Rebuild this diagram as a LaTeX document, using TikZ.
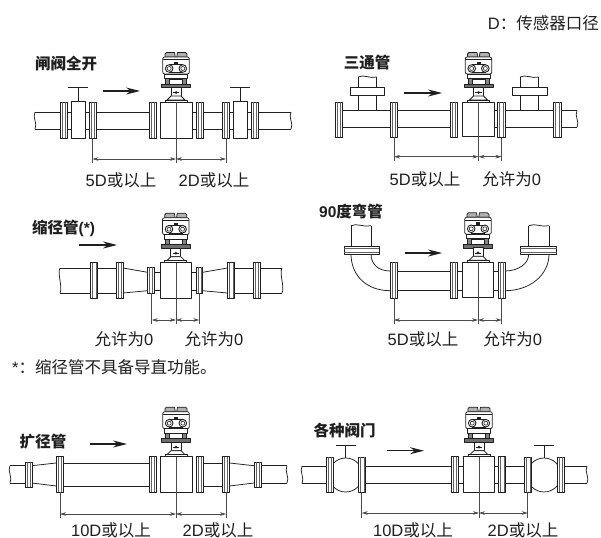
\documentclass[tikz,border=0pt]{standalone}
\usepackage{fontspec}
\setmainfont{Liberation Sans}
\newfontfamily\cjk{Noto Sans CJK SC}
\usetikzlibrary{arrows.meta}
\definecolor{ink}{gray}{0.12}
\definecolor{dimink}{gray}{0.3}
\tikzset{
  pipe/.style={draw=ink,line width=0.75pt,line join=round},
  solidpart/.style={pipe,fill=white},
  flowarrow/.style={draw=ink,line width=1.2pt,-{Stealth[length=14pt,width=7pt]}},
  dimarrow/.style={draw=dimink,line width=0.6pt,{Stealth[length=6pt,width=3.6pt]}-{Stealth[length=6pt,width=3.6pt]}},
  extline/.style={draw=dimink,line width=0.55pt},
  dimtext/.style={font=\fontsize{16.5}{18}\selectfont,text=ink,inner sep=0pt},
  titletext/.style={font=\fontsize{15.5}{18}\selectfont\bfseries,text=ink,inner sep=0pt},
}
% flange: x1 x2 y1 y2
\newcommand\fla[4]{\draw[solidpart] (#1,#3) rectangle (#2,#4);
  \draw[draw=ink!70,line width=0.45pt] ({#1+1.9},#3) -- ({#1+1.9},#4) ({#2-1.9},#3) -- ({#2-1.9},#4);}
% pipe segment: x1 x2 ytop ybot
\newcommand\pip[4]{\draw[pipe] (#1,#3) -- (#2,#3) (#1,#4) -- (#2,#4);}
% wavy open end: x y1 y2
\newcommand\wav[3]{\draw[pipe] (#1,#2) .. controls ({#1-3},{#2+5}) and ({#1+3},{#3-5}) .. (#1,#3);}
% wavy top end: y x1 x2
\newcommand\wavt[3]{\draw[pipe] (#2,#1) .. controls ({#2+6},{#1-3}) and ({#3-7},{#1+2}) .. (#3,#1);}
% gate valve: x1 x2 y1 y2 handle-y
\newcommand\gate[5]{\draw[solidpart] (#1,#3) rectangle (#2,#4);
  \draw[pipe] ({(#1+#2)/2},#3) -- ({(#1+#2)/2},#5) ({(#1+#2)/2-10},#5) -- ({(#1+#2)/2+10},#5);}
% ball valve: cx cy handle-y
\newcommand\ball[3]{\draw[solidpart] (#1,#2) circle (17);
  \draw[pipe] (#1,{#2-17}) -- (#1,#3) ({#1-10},#3) -- ({#1+10},#3);}
% tee: cx-left-wall cx-right-wall flx1 flx2 pipe-top
\newcommand\tee[5]{\draw[pipe] (#1,#5) -- (#1,95) (#2,#5) -- (#2,95) (#1,87) -- (#1,77) (#2,87) -- (#2,77);
  \wavt{77}{#1}{#2}
  \draw[solidpart] (#3,87) rectangle (#4,95);}
% meter: cx, body-top, body half width, body height
\newcommand\meter[4]{%
\begin{scope}[shift={(#1,#2)}]
  \draw[solidpart] (-#3,0) rectangle (#3,#4);
  % top caps
  \draw[pipe,fill=ink!35] (-11,-45) -- (-11,-48) -- (-9.5,-49.5) -- (-1.5,-49.5) -- (-0.7,-45) -- cycle;
  \draw[pipe,fill=ink!35] (11,-45) -- (11,-48) -- (9.5,-49.5) -- (1.5,-49.5) -- (0.7,-45) -- cycle;
  % head
  \draw[solidpart,rounded corners=2pt] (-13.3,-45) rectangle (13.3,-28);
  \draw[pipe,line width=0.5pt] (-13.3,-42.5) -- (13.3,-42.5);
  \draw[pipe,line width=0.5pt] (-7,-37.5) -- (7,-37.5) (-7,-29.5) -- (7,-29.5);
  \fill[ink] (-2,-40.2) rectangle (2,-37.6);
  \foreach \s in {-1,1}{
    \draw[solidpart,line width=0.9pt] ({\s*6.8},-33.5) circle (3.8);
    \draw[pipe,line width=0.6pt] ({\s*6.8},-33.5) circle (2);
  }
  % neck
  \draw[solidpart] (-11.5,-28) rectangle (11.5,-23.5);
  \draw[pipe,fill=ink!55] (-10.5,-23.5) rectangle (10.5,-18);
  \draw[pipe,fill=white] (-6.5,-23) rectangle (6.5,-18);
  \draw[pipe,fill=ink!65,line width=0.6pt] (-14.3,-18) rectangle (14.3,-14.5);
  % stem
  \draw[solidpart] (-5,-14.5) rectangle (5,-6);
  \fill[ink] (0,-9.5) circle (1.5);
  \draw[pipe,line width=0.6pt] (-3.2,-9.5) -- (3.2,-9.5);
  \draw[solidpart] (-5,-6) -- (-9,-2) -- (9,-2) -- (5,-6) -- cycle;
  \draw[solidpart] (-11,-2) rectangle (11,0);
\end{scope}}
% dimension set: name x1 xc x2 y-start ydim yend body-top
\newcommand\dims[8]{%
  \coordinate (#1a0) at (#2,#5); \coordinate (#1a1) at (#2,#7); \coordinate (#1a) at (#2,#6);
  \coordinate (#1c0) at (#3,#8); \coordinate (#1c1) at (#3,#7); \coordinate (#1c) at (#3,#6);
  \coordinate (#1b0) at (#4,#5); \coordinate (#1b1) at (#4,#7); \coordinate (#1b) at (#4,#6);
  \draw[extline] (#1a0) -- (#1a1) (#1c0) -- (#1c1) (#1b0) -- (#1b1);
  \draw[dimarrow] (#1a) -- (#1c);
  \draw[dimarrow] (#1c) -- (#1b);}
\newcommand\flowarr[4]{\coordinate (#1s) at (#2,#4); \coordinate (#1e) at (#3,#4); \draw[flowarrow] (#1s) -- (#1e);}
\begin{document}
\begin{tikzpicture}[x=1pt,y=-1pt]
\useasboundingbox (0,0) rectangle (601,537);
\fill[white] (0,0) rectangle (601,537);

\node[dimtext,anchor=east] (cap) at (599,23) {D{\cjk ：传感器口径}};

% ---- 1 gate valve
\pip{35}{149}{112}{129}\pip{192}{291}{112}{129}\wav{35}{112}{129}\wav{291}{112}{129}
\gate{71}{85}{101.5}{138}{87}\gate{233}{247}{101.5}{138}{87}
\fla{60}{67}{102}{138}\fla{89}{96}{102}{138}\fla{149}{156}{102}{138}\fla{196}{203}{102}{138}\fla{222}{229}{102}{138}\fla{251}{258}{102}{138}
\meter{176}{102}{16}{36}
\dims{A}{92.5}{176}{226}{138}{159}{163.5}{102}
\flowarr{fa}{103}{140}{91}
\node[titletext] (ta) at (66,64) {\cjk 闸阀全开};
\node[dimtext] (la1) at (121,180) {5D{\cjk 或以上}};
\node[dimtext] (la2) at (214,180) {2D{\cjk 或以上}};

% ---- 2 tee
\pip{342}{450}{110.7}{127}\pip{494}{577}{110.7}{127}\wav{577}{110.7}{127}
\tee{358}{376.7}{350}{384.7}{110.7}\tee{520}{538.7}{512}{547}{110.7}
\fill[white] (358.4,111.2) rectangle (376.3,126.5);\fill[white] (520.4,111.2) rectangle (538.3,126.5);
\fla{335}{342.5}{102}{137}\fla{390}{397}{102}{137}\fla{450}{457.5}{102}{137}\fla{497.7}{505}{102}{137}\fla{553}{561}{102}{137}
\meter{478.5}{102}{15.8}{34.5}
\dims{B}{394}{478.5}{501.5}{137}{156.7}{161.5}{102}
\flowarr{fb}{404}{442}{93}
\node[titletext] (tb) at (367,63) {\cjk 三通管};
\node[dimtext] (lb1) at (425,179) {5D{\cjk 或以上}};
\node[dimtext] (lb2) at (511.7,179) {{\cjk 允许为}0};

% ---- 3 reducer
\pip{60}{123}{268}{293}\pip{234}{282}{268}{293}\wav{60}{268}{293}\wav{282}{268}{293}
\draw[pipe] (123,268) -- (147.7,272.3) (123,293) -- (147.7,290.7) (202.7,272.3) -- (227.3,268) (202.7,290.7) -- (227.3,293);
\pip{154}{160}{272.3}{290.7}\pip{191}{197}{272.3}{290.7}
\fla{90.7}{97.7}{262.7}{298}\fla{116}{123}{262.7}{298}\fla{147.7}{154.3}{267}{293}\fla{196}{202.7}{267}{293}\fla{227.3}{234.7}{262.7}{298}\fla{253}{260}{262.7}{298}
\meter{175.8}{262.7}{15.8}{35.5}
\dims{C}{151.7}{176}{199.3}{293}{320}{324}{262.7}
\flowarr{fc}{79}{117}{245}
\node[titletext,anchor=west] (tc) at (32,228) {{\cjk 缩径管}(*)};
\node[dimtext] (lc1) at (124,339) {{\cjk 允许为}0};
\node[dimtext] (lc2) at (214,339) {{\cjk 允许为}0};
\node[dimtext,anchor=west] (note) at (12,367) {*{\cjk ：缩径管不具备导直功能。}};

% ---- 4 elbow
\pip{397}{450}{271}{290.7}\pip{457}{463}{271}{290.7}\pip{494}{498}{271}{290.7}
\draw[pipe] (390.3,271) .. controls (378,271) and (371,264) .. (371,254);
\draw[pipe] (390.3,290.7) .. controls (366,290.7) and (351,275) .. (351,254);
\draw[pipe] (505,271) .. controls (518,271) and (528.7,264) .. (528.7,254);
\draw[pipe] (505,290.7) .. controls (530,290.7) and (549,275) .. (549,254);
\draw[pipe] (351,246.7) -- (351,225.7) (371,246.7) -- (371,225.7) (528.7,246.7) -- (528.7,225.7) (549,246.7) -- (549,225.7);
\wavt{225.7}{351}{371}\wavt{225.7}{528.7}{549}
\draw[solidpart] (344,246.7) rectangle (379.3,254);
\draw[solidpart] (520,246.7) rectangle (556.7,254);
\draw[ink!70,line width=0.45pt] (344,248.7) -- (379.3,248.7) (344,252) -- (379.3,252) (520,248.7) -- (556.7,248.7) (520,252) -- (556.7,252);
\fla{390.3}{397.3}{262}{298}\fla{450}{457.5}{262}{298}\fla{498}{505}{262}{298}
\meter{478}{262.3}{15.7}{35.5}
\dims{D}{394}{478}{501.7}{298}{320}{323.5}{262.3}
\flowarr{fd}{405}{442}{253}
\node[titletext,anchor=west] (td) at (319,212) {90{\cjk 度弯管}};
\node[dimtext] (ld1) at (423,339) {5D{\cjk 或以上}};
\node[dimtext] (ld2) at (512.7,339) {{\cjk 允许为}0};

% ---- 5 expander
\pip{10}{25}{465.7}{483}\wav{10}{465.7}{483}\pip{261}{287}{465.7}{483}\wav{287}{465.7}{483}
\pip{63}{149}{463}{486}\pip{203}{222}{463}{486}
\draw[pipe] (32,465.7) -- (56.3,463) (32,483) -- (56.3,486) (229.5,463) -- (254,465.7) (229.5,486) -- (254,483);
\fla{25}{32}{462}{487}\fla{56.3}{63.3}{456.7}{492.3}\fla{149}{156}{456.7}{492.3}\fla{196}{203}{456.7}{492.3}\fla{222}{229.5}{456.7}{492.3}\fla{254}{261}{462}{487}
\meter{176}{456.7}{16}{35.6}
\dims{E}{60}{176}{226}{492.3}{514}{518}{456.7}
\flowarr{fe}{90}{127}{444}
\node[titletext] (te) at (43,442) {\cjk 扩径管};
\node[dimtext] (le1) at (111,530) {10D{\cjk 或以上}};
\node[dimtext] (le2) at (218,530) {2D{\cjk 或以上}};

% ---- 6 ball valves
\pip{302}{326.3}{466}{483.3}\wav{302}{466}{483.3}\pip{365.7}{451}{466}{483.3}\pip{505.7}{524.3}{466}{483.3}\pip{564}{587}{466}{483.3}\wav{587}{466}{483.3}
\pip{458}{463}{466}{483.3}\pip{494}{499}{466}{483.3}
\ball{345.7}{475}{445}\ball{544}{475}{445}
\fla{326.3}{333.3}{457}{492.3}\fla{358.3}{365.7}{457}{492.3}\fla{451}{458}{456.7}{492.3}\fla{498.7}{505.7}{456.7}{492.3}\fla{524.3}{531.7}{457}{492.3}\fla{557}{564}{457}{492.3}
\meter{479}{456.7}{15.7}{35.6}
\dims{F}{361.7}{479}{527.7}{492.3}{513}{517.5}{456.7}
\flowarr{ff}{386.7}{424}{450.7}
\node[titletext] (tf) at (344.5,431) {\cjk 各种阀门};
\node[dimtext] (lf1) at (413,530) {10D{\cjk 或以上}};
\node[dimtext] (lf2) at (523,530) {2D{\cjk 或以上}};
\end{tikzpicture}
\end{document}
